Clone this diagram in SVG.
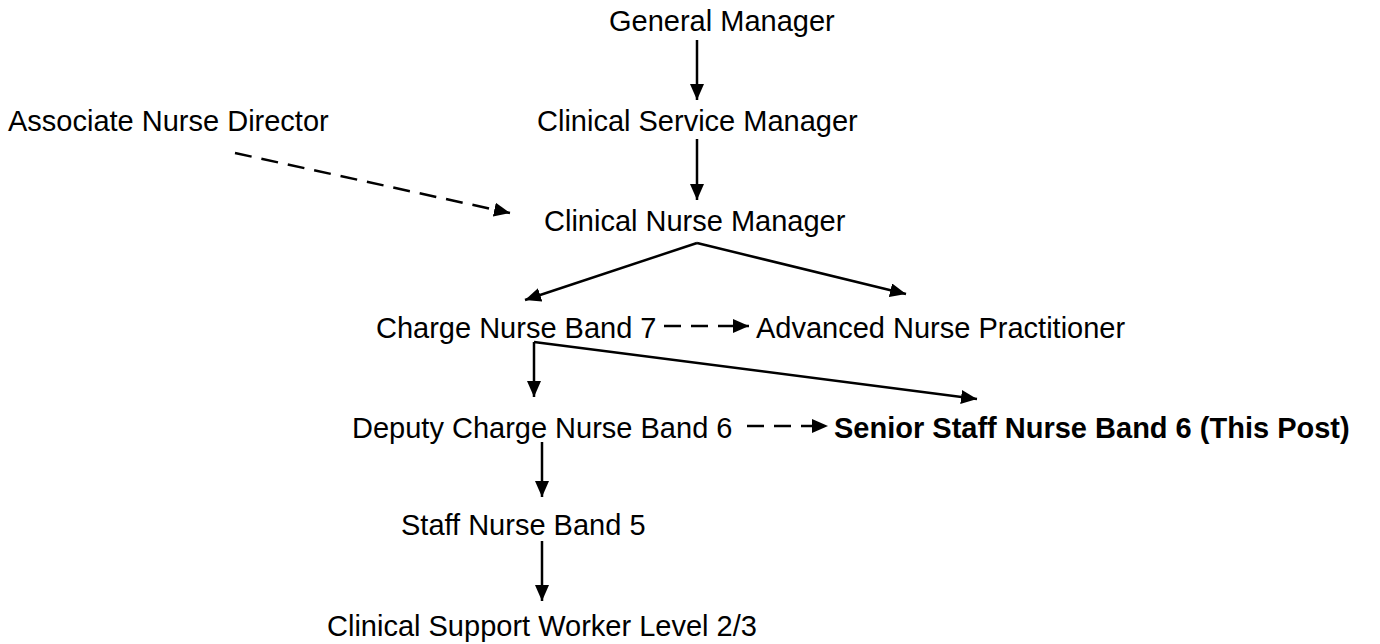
<svg xmlns="http://www.w3.org/2000/svg" width="1380" height="644" viewBox="0 0 1380 644">
<style>
text{font-family:"Liberation Sans",Arial,sans-serif;font-size:29px;fill:#000}
.b{font-weight:bold}
.c{stroke:#000;stroke-width:2.5;fill:none}
.d{stroke-dasharray:17,10}
</style>
<defs>
<marker id="a" viewBox="0 0 16 14" refX="16" refY="7" markerWidth="16" markerHeight="14" markerUnits="userSpaceOnUse" orient="auto">
<path d="M0,0 L16,7 L0,14 z" fill="#000"/>
</marker>
</defs>
<rect width="1380" height="644" fill="#fff"/>
<g id="n-gm"><text x="609" y="31">General Manager</text></g>
<g id="n-csm"><text x="537" y="131">Clinical Service Manager</text></g>
<g id="n-and"><text x="8" y="131">Associate Nurse Director</text></g>
<g id="n-cnm"><text x="544" y="231">Clinical Nurse Manager</text></g>
<g id="n-cn7"><text x="376" y="338">Charge Nurse Band 7</text></g>
<g id="n-anp"><text x="756" y="338">Advanced Nurse Practitioner</text></g>
<g id="n-dcn"><text x="352" y="438">Deputy Charge Nurse Band 6</text></g>
<g id="n-ssn"><text class="b" x="834" y="438">Senior Staff Nurse Band 6 (This Post)</text></g>
<g id="n-sn5"><text x="401" y="535">Staff Nurse Band 5</text></g>
<g id="n-csw"><text x="327" y="636">Clinical Support Worker Level 2/3</text></g>
<g id="connectors">
<line class="c" x1="697" y1="40" x2="697" y2="100" marker-end="url(#a)"/>
<line class="c" x1="697" y1="139" x2="697" y2="200" marker-end="url(#a)"/>
<line class="c d" x1="235" y1="153" x2="510" y2="213" marker-end="url(#a)"/>
<line class="c" x1="697" y1="243" x2="525" y2="300" marker-end="url(#a)"/>
<line class="c" x1="697" y1="243" x2="906" y2="294" marker-end="url(#a)"/>
<line class="c d" x1="664" y1="326" x2="749" y2="326" marker-end="url(#a)"/>
<line class="c" x1="534" y1="342" x2="534" y2="397" marker-end="url(#a)"/>
<line class="c" x1="534" y1="342" x2="977" y2="399" marker-end="url(#a)"/>
<line class="c d" x1="747" y1="426" x2="828" y2="426" marker-end="url(#a)"/>
<line class="c" x1="542" y1="442" x2="542" y2="497" marker-end="url(#a)"/>
<line class="c" x1="542" y1="541" x2="542" y2="601" marker-end="url(#a)"/>
</g>
</svg>
